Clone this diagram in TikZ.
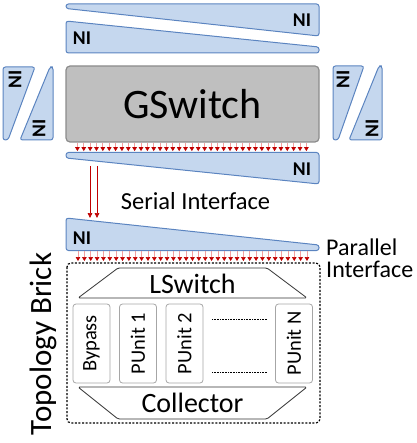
\documentclass[tikz,border=0pt]{standalone}
\usepackage{fontspec}
\setmainfont{Carlito}
\usetikzlibrary{arrows.meta}
\definecolor{niblue}{HTML}{C5D7EE}
\definecolor{niedge}{HTML}{5B84C0}
\definecolor{gsfill}{HTML}{BFBFBF}
\definecolor{gsedge}{HTML}{8C8C8C}
\definecolor{busred}{HTML}{C00000}
\definecolor{buspink}{HTML}{F2A0A0}
\definecolor{unitedge}{HTML}{A6A6A6}
\begin{document}
\begin{tikzpicture}[x=1pt,y=-1pt,
  ni/.style={draw=niedge,fill=niblue,line width=1pt,rounded corners=2.5pt,line join=round},
  nilabel/.style={font=\fontsize{19.5}{19.5}\selectfont\bfseries,inner sep=0pt},
  busarrow/.style={draw=buspink,line width=0.7pt,-{Triangle[width=4.6pt,length=4pt,color=busred]}},
  serialarrow/.style={draw=busred,line width=0.6pt,-{Triangle[width=4.6pt,length=5pt,color=busred]}},
  unit/.style={draw=unitedge,fill=white,rounded corners=3pt,line width=0.8pt,rotate=90,
    minimum width=79pt,minimum height=37pt,inner sep=0pt,font=\fontsize{20.5}{20.5}\selectfont},
  brick/.style={draw=black!80,line width=0.8pt,rounded corners=1.5pt,line join=round}]
\useasboundingbox (0,0) rectangle (416,443);

% network interfaces around the global switch
\draw[ni] (66,4) -- (319,4) -- (319,36) -- (66,8.5) -- cycle;
\draw[ni] (66,21) -- (319,47) -- (319,53) -- (66,53) -- cycle;
\node[nilabel] (nitop) at (302,20) {NI};
\node[nilabel] (niup) at (82,38) {NI};

\draw[ni] (3,67) -- (35,67) -- (8,140) -- (3,140) -- cycle;
\draw[ni] (50,67) -- (53,67) -- (53,140) -- (20,140) -- cycle;
\node[nilabel,rotate=90] (nileft) at (15,79) {NI};
\node[nilabel,rotate=90] (nileftb) at (39,128) {NI};

\draw[ni] (333,66) -- (364,66) -- (338,140) -- (333,140) -- cycle;
\draw[ni] (379,66) -- (382,66) -- (382,140) -- (349,140) -- cycle;
\node[nilabel,rotate=90] (niright) at (343,79) {NI};
\node[nilabel,rotate=90] (nirightb) at (372,128) {NI};

\node[draw=gsedge,fill=gsfill,line width=1.2pt,rounded corners=4pt,
  minimum width=253pt,minimum height=76pt,font=\fontsize{42}{42}\selectfont]
  (gsw) at (192.5,104) {GSwitch};

\draw[ni] (66,152.5) -- (319,152.5) -- (319,184) -- (66,158) -- cycle;
\node[nilabel] (nidown) at (302,169) {NI};

\foreach \i in {0,...,36}
  \draw[busarrow] ([xshift={12pt+\i*6.36pt}]gsw.south west) -- ++(0,8.5);

% serial link down to the brick
\coordinate (ser1) at (90,166);
\coordinate (ser2) at (97,166);
\draw[serialarrow] (ser1) -- ++(0,52);
\draw[serialarrow] (ser2) -- ++(0,52);
\node[font=\fontsize{24.5}{24.5}\selectfont,anchor=base] (serial) at (195.5,210) {Serial Interface};

\draw[ni] (66,218) -- (319,245) -- (319,250.5) -- (66,250.5) -- cycle;
\node[nilabel] (nibrick) at (82,238) {NI};
\coordinate (bus) at (78,251);
\foreach \i in {0,...,36}
  \draw[busarrow] ([xshift=\i*6.36pt]bus) -- ++(0,10);

\node[font=\fontsize{24}{22}\selectfont,align=left,anchor=north west,inner sep=0pt]
  (parallel) at (326,239) {Parallel\\Interface};

% topology brick
\draw[line width=1.2pt,dash pattern=on 2pt off 1.6pt,rounded corners=4pt]
  (67,263) rectangle (320,423);
\node[font=\fontsize{31}{31}\selectfont,rotate=90] (brickname) at (43,344) {Topology Brick};

\draw[brick] (118,268) -- (267,268) -- (307,298) -- (78,298) -- cycle;
\node[font=\fontsize{28}{28}\selectfont,anchor=base] (lsw) at (192.5,293) {LSwitch};

\node[unit] (bypass) at (91.5,343.5) {Bypass};
\node[unit] (pu1) at (138,343.5) {PUnit 1};
\node[unit] (pu2) at (184.5,343.5) {PUnit 2};
\node[unit] (puN) at (294,343.5) {PUnit N};
\draw[densely dotted,line width=0.6pt] (212,319) -- (267,319);
\draw[densely dotted,line width=0.6pt] (212,372) -- (267,372);

\draw[brick] (78,387) -- (307,387) -- (267,419) -- (118,419) -- cycle;
\node[font=\fontsize{28}{28}\selectfont,anchor=base] (coll) at (192.5,412) {Collector};
\end{tikzpicture}
\end{document}
